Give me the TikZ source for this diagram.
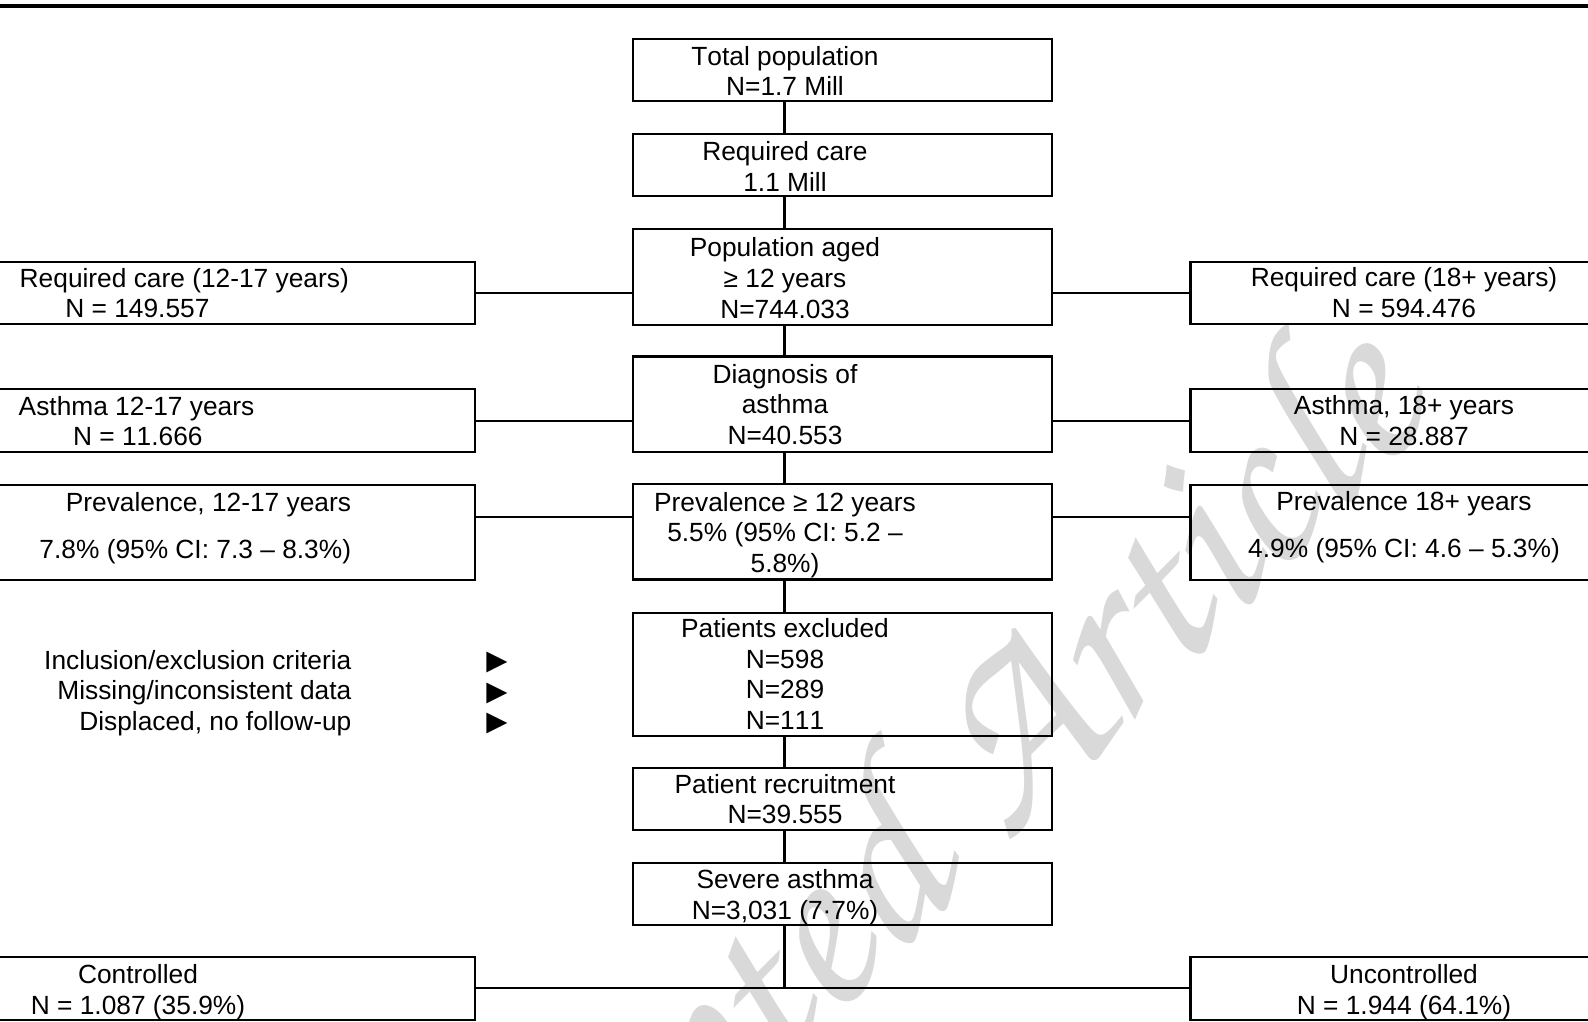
\documentclass[tikz,border=0pt]{standalone}
\usepackage[T1,TU]{fontenc}
\usepackage{fontspec}
\setmainfont{Liberation Sans}[Kerning=Off]
\usetikzlibrary{calc}
\def\px{0.456pt}
\newcommand{\mainfnt}{\fontsize{12}{14}\selectfont}
\newcommand{\wmfnt}{\fontencoding{T1}\fontfamily{pzc}\fontseries{mb}\fontshape{it}\fontsize{115}{115}\selectfont}
\tikzset{
  box/.style={draw=black, line width=1.05pt, inner sep=0pt},
  cbox/.style={box, minimum width=419*\px},
  lbox/.style={box, minimum width=674*\px},
  rbox/.style={box, minimum width=427*\px, align=center, font=\mainfnt},
  txt/.style={align=center, inner sep=0pt, font=\mainfnt},
  link/.style={draw=black, line width=1.05pt},
  wm/.style={text=black!15, inner sep=0pt, font=\wmfnt},
}

\begin{document}
\begin{tikzpicture}[x=\px,y=-\px]
\useasboundingbox (0,0) rectangle (1588,1021);

% watermark
\node[wm, rotate=45] (wmk) at (882,898) {Accepted Article};

\draw[line width=1.4pt] (0,6) -- (1588,6);

% central column
\node[cbox, minimum height=62*\px]   (tot)  at (842.5,70.3)  {};
\node[cbox, minimum height=62*\px]   (req)  at (842.5,165)   {};
\node[cbox, minimum height=95.5*\px] (pop)  at (842.5,277)   {};
\node[cbox, minimum height=95.5*\px] (diag) at (842.5,404.3) {};
\node[cbox, minimum height=95.5*\px] (prev) at (842.5,531.7) {};
\node[cbox, minimum height=123*\px]  (excl) at (842.5,674.2) {};
\node[cbox, minimum height=62.5*\px] (recr) at (842.5,799)   {};
\node[cbox, minimum height=62*\px]   (sev)  at (842.5,893.8) {};

\node[txt] (totT)  at (785,71)    {Total population\\N=1.7 Mill};
\node[txt] (reqT)  at (785,166.5) {Required care\\1.1 Mill};
\node[txt] (popT)  at (785,278)   {Population aged\\≥ 12 years\\N=744.033};
\node[txt] (diagT) at (785,404.5) {Diagnosis of\\asthma\\N=40.553};
\node[txt] (prevT) at (785,535)   {Prevalence ≥ 12 years\\5.5\% (95\% CI: 5.2 –\\5.8\%)};
\node[txt] (exclT) at (785,674)   {Patients excluded\\N=598\\N=289\\N=111};
\node[txt] (recrT) at (785,799)   {Patient recruitment\\N=39.555};
\node[txt] (sevT)  at (785,897)   {Severe asthma\\N=3,031 (7·7\%)};

% left column
\node[lbox, minimum height=62.3*\px] (l1)   at (138,292.9) {};
\node[lbox, minimum height=63*\px]   (l2)   at (138,420.8) {};
\node[lbox, minimum height=94.7*\px] (l3)   at (138,532.6) {};
\node[lbox, minimum height=63*\px]   (ctrl) at (138,988.2) {};

\node[txt, align=left, anchor=west]  (l1T) at (19.3,293)   {Required care (12-17 years)\\\hspace*{20.8pt}N = 149.557};
\node[txt, align=left, anchor=west]  (l2T) at (18.3,421)   {Asthma 12-17 years\\\hspace*{24.8pt}N = 11.666};
\node[txt, align=right, anchor=east] (l3T) at (351.5,528.5) {Prevalence, 12-17 years\\[7.4pt]7.8\% (95\% CI: 7.3 – 8.3\%)};
\node[txt] (ctrlT) at (138,992) {Controlled\\N = 1.087 (35.9\%)};

% right column
\node[rbox, minimum height=62.3*\px] (r1)  at (1404,292.9) {Required care (18+ years)\\N = 594.476};
\node[rbox, minimum height=63*\px]   (r2)  at (1404,420.8) {Asthma, 18+ years\\N = 28.887};
\node[box, minimum width=427*\px, minimum height=94.7*\px] (r3)  at (1404,532.6) {};
\node[box, minimum width=427*\px, minimum height=63*\px]   (unc) at (1404,988.2) {};
\node[txt] (r3T)  at (1404,527.5) {Prevalence 18+ years\\[7.4pt]4.9\% (95\% CI: 4.6 – 5.3\%)};
\node[txt] (uncT) at (1404,992)   {Uncontrolled\\N = 1.944 (64.1\%)};

% exclusions
\node[txt, align=right, anchor=east] (whyT) at (351.8,693) {Inclusion/exclusion criteria\\Missing/inconsistent data\\Displaced, no follow-up};
\node[txt, font=\fontsize{16}{14}\selectfont] (ptrT) at (497,693) {►\\►\\►};

% connectors
\coordinate (axis) at (784.5,0);
\coordinate (row3) at (0,516.7);
\foreach \a/\b in {tot/req,req/pop,pop/diag,diag/prev,prev/excl,excl/recr,recr/sev}
  \draw[link] (\a.south -| axis) -- (\b.north -| axis);
\draw[link] (l1.east) -- (pop.west |- l1.east);
\draw[link] (pop.east |- r1.west) -- (r1.west);
\draw[link] (l2.east) -- (diag.west |- l2.east);
\draw[link] (diag.east |- r2.west) -- (r2.west);
\draw[link] (l3.east |- row3) -- (prev.west |- row3);
\draw[link] (prev.east |- row3) -- (r3.west |- row3);
\draw[link] (sev.south -| axis) -- (axis |- ctrl.east);
\draw[link] (ctrl.east) -- (unc.west);

\end{tikzpicture}
\end{document}
